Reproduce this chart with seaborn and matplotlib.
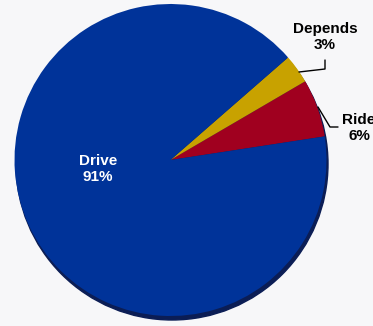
import matplotlib
matplotlib.use("Agg")
import matplotlib.pyplot as plt
import seaborn as sns
from matplotlib.patches import Circle

sns.set_theme(style="white")
plt.rcParams["font.family"] = ["Liberation Sans", "DejaVu Sans"]

# Survey answers: how people usually travel
categories = ["Ride", "Depends", "Drive"]
shares = [6, 3, 91]
colors = ["#a0001f", "#c8a200", "#003399"]
label_colors = ["black", "black", "white"]

W, H = 373, 326
fig = plt.figure(figsize=(W / 100, H / 100), dpi=100)
fig.patch.set_facecolor("#f7f7f9")
ax = fig.add_axes([0, 0, 1, 1])
ax.set_xlim(0, W)
ax.set_ylim(0, H)
ax.set_aspect("equal")
ax.axis("off")

cx, cy, r = 170.5, 166, 156

# drop shadow under the pie
ax.add_patch(Circle((cx + 1.5, cy - 4), r, color="#0b1d55", zorder=1))

wedges, _ = ax.pie(
    shares, colors=colors, startangle=8.7, counterclock=True,
    center=(cx, cy), radius=r, frame=True,
    wedgeprops=dict(linewidth=0, zorder=2),
)
ax.set_xlim(0, W)
ax.set_ylim(0, H)
ax.axis("off")

labels = [f"{c}\n{v}%" for c, v in zip(categories, shares)]
label_pos = [(359, 198), (325, 289), (98, 157)]
for txt, (x, y), col in zip(labels, label_pos, label_colors):
    ax.text(x, y, txt, ha="center", va="center", fontsize=11,
            fontweight="bold", color=col, linespacing=1.25, zorder=4)

# leader lines
ax.plot([299, 325, 325], [254, 257, 266], color="black", lw=1, zorder=4)
ax.plot([318, 330, 338], [219, 199, 199], color="black", lw=1, zorder=4)

fig.savefig("out.png", dpi=100, facecolor=fig.get_facecolor())
